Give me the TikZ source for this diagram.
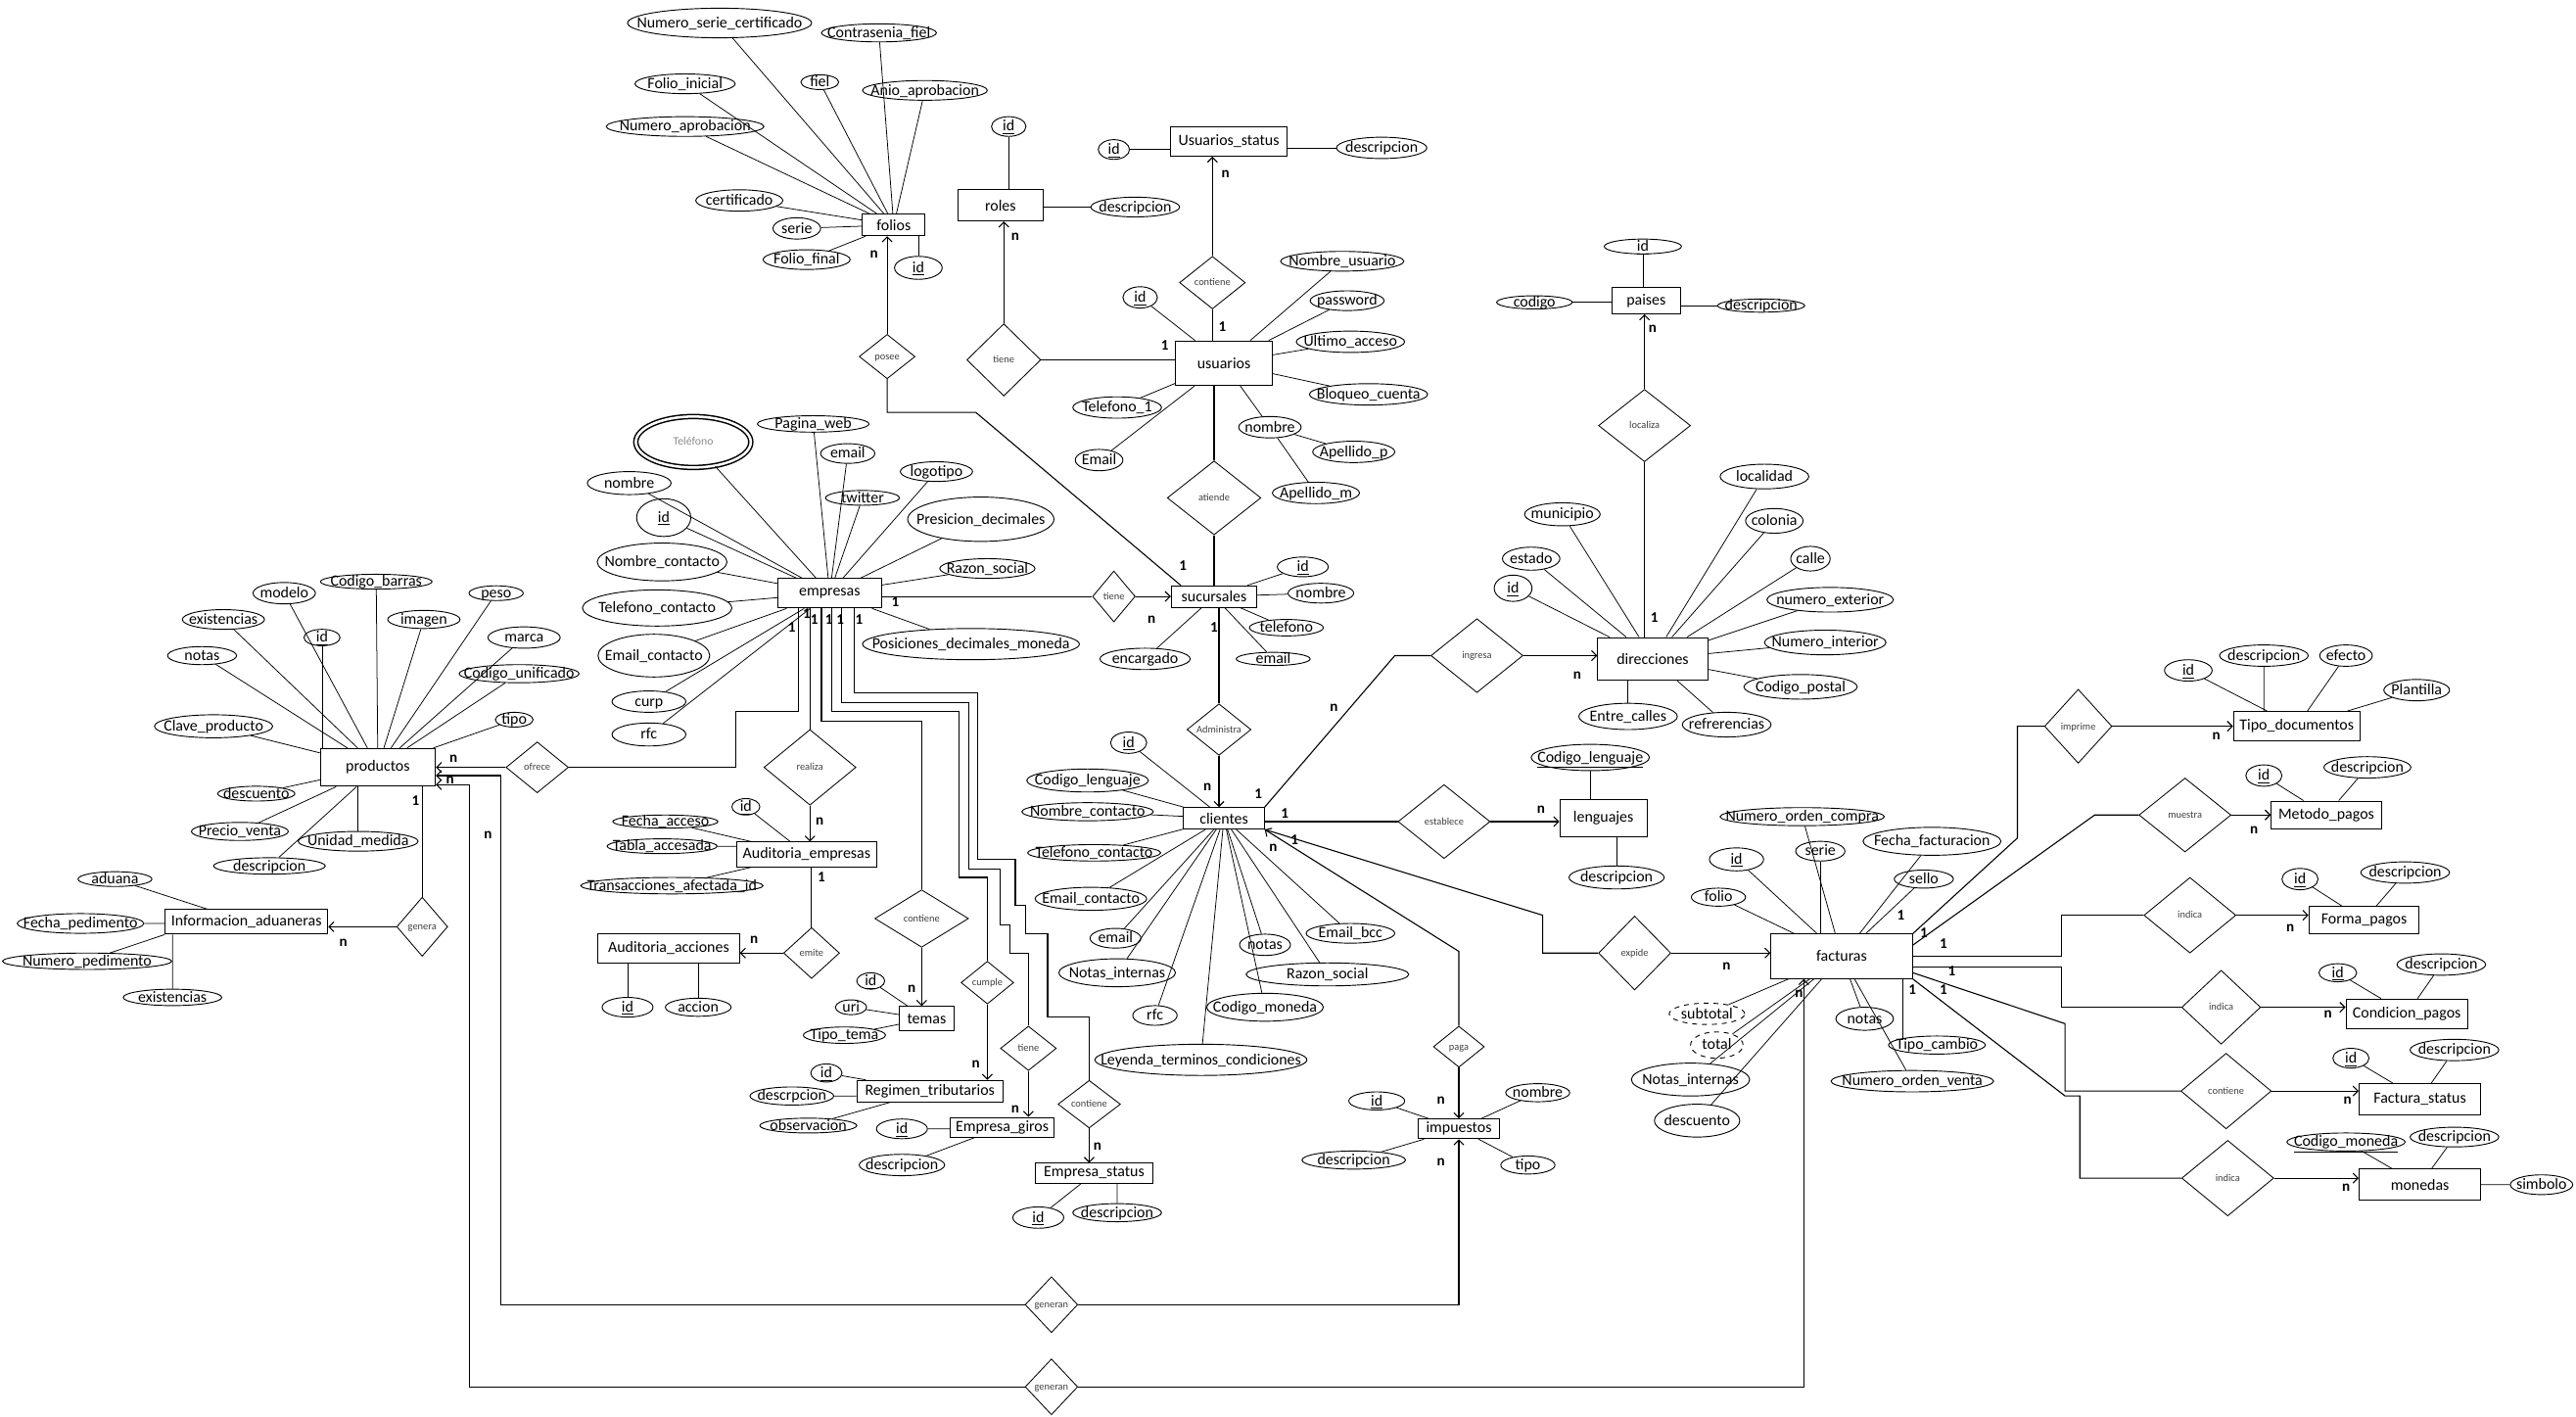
\documentclass[tikz,border=0pt]{standalone}
\usepackage{fontspec}
\setmainfont{Carlito}
\usetikzlibrary{shapes.geometric,arrows.meta}

% texto sin ancho, centrado en el nodo
\newcommand{\etq}[1]{\makebox[0pt]{\raisebox{-0.3em}{#1}}}

\begin{document}
\begin{tikzpicture}[
    x=1pt, y=-1pt,
    >={Straight Barb[length=3pt,width=6pt]},
    sz/.style 2 args={minimum width=#1pt, minimum height=#2pt},
    ent/.style={draw, rectangle, line width=0.6pt, inner sep=0pt, font=\fontsize{9.5}{11}\selectfont},
    atr/.style={draw, ellipse, line width=0.55pt, inner sep=0pt, text height=0pt, text depth=0pt, font=\fontsize{9.5}{11}\selectfont},
    der/.style={atr, dashed},
    mult/.style={atr, double, double distance=1.5pt, line width=0.9pt, text=black!45, font=\fontsize{7}{8}\selectfont},
    rel/.style={draw, diamond, line width=0.5pt, inner sep=0pt, text height=4pt, text depth=0pt, text=black!75, font=\fontsize{6.2}{7}\selectfont},
    card/.style={inner sep=0pt, font=\fontsize{9}{10}\selectfont\bfseries},
    lin/.style={line width=0.45pt},
    rl/.style={line width=0.65pt}
]
\useasboundingbox[fill=white] (0,0) rectangle (1568,862);

% entidades
\node[ent, sz={38}{13}] (fol) at (544,137) {folios};
\node[ent, sz={52}{19}] (rol) at (609,125) {roles};
\node[ent, sz={71}{18}] (ust) at (748,86)  {Usuarios\_status};
\node[ent, sz={59}{27}] (usu) at (745,221) {usuarios};
\node[ent, sz={63}{18}] (emp) at (505,361) {empresas};
\node[ent, sz={52}{13}] (suc) at (739,363) {sucursales};
\node[ent, sz={49}{13}] (cli) at (745,498) {clientes};
\node[ent, sz={67}{26}] (dir) at (1006,401) {direcciones};
\node[ent, sz={42}{16}] (pai) at (1002,183) {paises};
\node[ent, sz={53}{23}] (len) at (976,498) {lenguajes};
\node[ent, sz={86}{27}] (fac) at (1121,582) {facturas};
\node[ent, sz={77}{18}] (tdo) at (1398,442) {Tipo\_documentos};
\node[ent, sz={67}{17}] (mpa) at (1416,496) {Metodo\_pagos};
\node[ent, sz={67}{17}] (fpa) at (1439,560) {Forma\_pagos};
\node[ent, sz={74}{18}] (cpa) at (1465,617) {Condicion\_pagos};
\node[ent, sz={74}{19}] (fst) at (1473,669) {Factura\_status};
\node[ent, sz={74}{19}] (mon) at (1473,721) {monedas};
\node[ent, sz={49}{12}] (imp) at (888,687) {impuestos};
\node[ent, sz={72}{12}] (est) at (666,714) {Empresa\_status};
\node[ent, sz={63}{12}] (egi) at (610,686) {Empresa\_giros};
\node[ent, sz={89}{13}] (reg) at (566,664) {Regimen\_tributarios};
\node[ent, sz={33}{15}] (tem) at (564,620) {temas};
\node[ent, sz={86}{18}] (aac) at (407,577) {Auditoria\_acciones};
\node[ent, sz={85}{15}] (aem) at (491,520) {Auditoria\_empresas};
\node[ent, sz={70}{23}] (pro) at (230,467) {productos};
\node[ent, sz={99}{15}] (ina) at (150,561) {Informacion\_aduaneras};

% atributos folios / roles / usuarios
\node[atr, sz={112}{18}] (fo-nsc) at (438,14)  {\etq{Numero\_serie\_certificado}};
\node[atr, sz={70}{11}]  (fo-cfi) at (535,20)  {\etq{Contrasenia\_fiel}};
\node[atr, sz={61}{12}]  (fo-fin) at (417,51)  {\etq{Folio\_inicial}};
\node[atr, sz={23}{9}]   (fo-fie) at (499,50)  {\etq{fiel}};
\node[atr, sz={76}{12}]  (fo-ani) at (563,55)  {\etq{Anio\_aprobacion}};
\node[atr, sz={96}{12}]  (fo-nap) at (417,77)  {\etq{Numero\_aprobacion}};
\node[atr, sz={53}{13}]  (fo-cer) at (450,122) {\etq{certificado}};
\node[atr, sz={29}{13}]  (fo-ser) at (485,139) {\etq{serie}};
\node[atr, sz={53}{12}]  (fo-ffi) at (491,158) {\etq{Folio\_final}};
\node[atr, sz={29}{14}]  (fo-id)  at (559,163) {\etq{\underline{id}}};
\node[atr, sz={21}{12}]  (ro-id)  at (614,77)  {\etq{\underline{id}}};
\node[atr, sz={54}{12}]  (ro-des) at (691,126) {\etq{descripcion}};
\node[atr, sz={19}{12}]  (us-id)  at (678,91)  {\etq{\underline{id}}};
\node[atr, sz={55}{13}]  (us-des) at (841,90)  {\etq{descripcion}};
\node[atr, sz={21}{13}]  (u-id)   at (694,181) {\etq{\underline{id}}};
\node[atr, sz={75}{12}]  (u-nus)  at (817,159) {\etq{Nombre\_usuario}};
\node[atr, sz={45}{12}]  (u-pas)  at (820,183) {\etq{password}};
\node[atr, sz={66}{13}]  (u-ult)  at (822,208) {\etq{Ultimo\_acceso}};
\node[atr, sz={72}{13}]  (u-blo)  at (833,240) {\etq{Bloqueo\_cuenta}};
\node[atr, sz={54}{13}]  (u-tel)  at (680,248) {\etq{Telefono\_1}};
\node[atr, sz={29}{13}]  (u-ema)  at (669,280) {\etq{Email}};
\node[atr, sz={38}{13}]  (u-nom)  at (773,260) {\etq{nombre}};
\node[atr, sz={50}{13}]  (u-app)  at (824,275) {\etq{Apellido\_p}};
\node[atr, sz={53}{13}]  (u-apm)  at (801,300) {\etq{Apellido\_m}};

% atributos empresas / sucursales
\node[mult, sz={70}{31}] (e-tel) at (422,269) {\etq{Teléfono}};
\node[atr, sz={68}{10}]  (e-pag) at (495,258) {\etq{Pagina\_web}};
\node[atr, sz={33}{12}]  (e-ema) at (516,276) {\etq{email}};
\node[atr, sz={44}{12}]  (e-log) at (570,287) {\etq{logotipo}};
\node[atr, sz={45}{9}]   (e-twi) at (525,303) {\etq{twitter}};
\node[atr, sz={89}{27}]  (e-pre) at (597,316) {\etq{Presicion\_decimales}};
\node[atr, sz={58}{12}]  (e-raz) at (601,346) {\etq{Razon\_social}};
\node[atr, sz={132}{19}] (e-pos) at (591,392) {\etq{Posiciones\_decimales\_moneda}};
\node[atr, sz={51}{14}]  (e-nom) at (383,294) {\etq{nombre}};
\node[atr, sz={33}{23}]  (e-id)  at (404,315) {\etq{\underline{id}}};
\node[atr, sz={79}{23}]  (e-nco) at (403,342) {\etq{Nombre\_contacto}};
\node[atr, sz={91}{22}]  (e-tco) at (400,370) {\etq{Telefono\_contacto}};
\node[atr, sz={68}{26}]  (e-eco) at (398,399) {\etq{Email\_contacto}};
\node[atr, sz={45}{13}]  (e-cur) at (395,427) {\etq{curp}};
\node[atr, sz={45}{14}]  (e-rfc) at (395,447) {\etq{rfc}};
\node[atr, sz={31}{12}]  (s-id)  at (793,345) {\etq{\underline{id}}};
\node[atr, sz={40}{12}]  (s-nom) at (804,361) {\etq{nombre}};
\node[atr, sz={45}{10}]  (s-tel) at (783,382) {\etq{telefono}};
\node[atr, sz={45}{8}]   (s-ema) at (775,401) {\etq{email}};
\node[atr, sz={55}{13}]  (s-enc) at (697,401) {\etq{encargado}};

% atributos clientes
\node[atr, sz={22}{13}]  (c-id)  at (687,452) {\etq{\underline{id}}};
\node[atr, sz={74}{14}]  (c-cle) at (662,475) {\etq{Codigo\_lenguaje}};
\node[atr, sz={80}{11}]  (c-nco) at (662,494) {\etq{Nombre\_contacto}};
\node[atr, sz={81}{10}]  (c-tco) at (666,519) {\etq{Telefono\_contacto}};
\node[atr, sz={68}{14}]  (c-eco) at (664,547) {\etq{Email\_contacto}};
\node[atr, sz={31}{12}]  (c-ema) at (679,571) {\etq{email}};
\node[atr, sz={71}{17}]  (c-nin) at (680,592) {\etq{Notas\_internas}};
\node[atr, sz={27}{12}]  (c-rfc) at (703,618) {\etq{rfc}};
\node[atr, sz={129}{19}] (c-ley) at (731,645) {\etq{Leyenda\_terminos\_condiciones}};
\node[atr, sz={71}{17}]  (c-cmo) at (770,613) {\etq{Codigo\_moneda}};
\node[atr, sz={31}{13}]  (c-not) at (770,575) {\etq{notas}};
\node[atr, sz={99}{14}]  (c-raz) at (808,593) {\etq{Razon\_social}};
\node[atr, sz={54}{12}]  (c-bcc) at (822,568) {\etq{Email\_bcc}};

% atributos direcciones / paises / lenguajes
\node[atr, sz={23}{16}]  (d-id)  at (921,358)  {\etq{\underline{id}}};
\node[atr, sz={35}{14}]  (d-est) at (932,340)  {\etq{estado}};
\node[atr, sz={46}{14}]  (d-mun) at (951,313)  {\etq{municipio}};
\node[atr, sz={54}{15}]  (d-loc) at (1074,290) {\etq{localidad}};
\node[atr, sz={35}{15}]  (d-col) at (1080,317) {\etq{colonia}};
\node[atr, sz={24}{15}]  (d-cal) at (1102,340) {\etq{calle}};
\node[atr, sz={77}{15}]  (d-nex) at (1114,365) {\etq{numero\_exterior}};
\node[atr, sz={74}{15}]  (d-nin) at (1111,391) {\etq{Numero\_interior}};
\node[atr, sz={69}{15}]  (d-cpo) at (1096,418) {\etq{Codigo\_postal}};
\node[atr, sz={60}{16}]  (d-ent) at (991,436)  {\etq{Entre\_calles}};
\node[atr, sz={54}{15}]  (d-ref) at (1051,441) {\etq{refrerencias}};
\node[atr, sz={47}{9}]   (p-id)  at (1000,150) {\etq{\underline{id}}};
\node[atr, sz={46}{8}]   (p-cod) at (934,184)  {\etq{codigo}};
\node[atr, sz={53}{8}]   (p-des) at (1072,186) {\etq{descripcion}};
\node[atr, sz={72}{16}]  (l-cod) at (968,461)  {\etq{\underline{Codigo\_lenguaje}}};
\node[atr, sz={58}{14}]  (l-des) at (984,534)  {\etq{descripcion}};

% atributos facturas
\node[atr, sz={100}{11}] (fa-noc) at (1097,497) {\etq{Numero\_orden\_compra}};
\node[atr, sz={30}{12}]  (fa-ser) at (1108,518) {\etq{serie}};
\node[atr, sz={84}{17}]  (fa-ffa) at (1176,512) {\etq{Fecha\_facturacion}};
\node[atr, sz={33}{14}]  (fa-id)  at (1057,523) {\etq{\underline{id}}};
\node[atr, sz={36}{11}]  (fa-sel) at (1171,535) {\etq{sello}};
\node[atr, sz={33}{11}]  (fa-fol) at (1046,546) {\etq{folio}};
\node[der, sz={46}{13}]  (fa-sub) at (1039,617) {\etq{subtotal}};
\node[der, sz={32}{16}]  (fa-tot) at (1045,636) {\etq{total}};
\node[atr, sz={72}{20}]  (fa-nin) at (1029,657) {\etq{Notas\_internas}};
\node[atr, sz={52}{20}]  (fa-des) at (1033,682) {\etq{descuento}};
\node[atr, sz={35}{14}]  (fa-not) at (1135,620) {\etq{notas}};
\node[atr, sz={59}{11}]  (fa-tca) at (1179,636) {\etq{Tipo\_cambio}};
\node[atr, sz={99}{13}]  (fa-nov) at (1164,658) {\etq{Numero\_orden\_venta}};

% atributos catalogos de facturas
\node[atr, sz={29}{13}] (td-id)  at (1332,408) {\etq{\underline{id}}};
\node[atr, sz={54}{13}] (td-des) at (1378,399) {\etq{descripcion}};
\node[atr, sz={32}{13}] (td-efe) at (1428,399) {\etq{efecto}};
\node[atr, sz={40}{13}] (td-pla) at (1471,420) {\etq{Plantilla}};
\node[atr, sz={22}{13}] (mp-id)  at (1378,472) {\etq{\underline{id}}};
\node[atr, sz={53}{13}] (mp-des) at (1441,467) {\etq{descripcion}};
\node[atr, sz={22}{13}] (fp-id)  at (1400,535) {\etq{\underline{id}}};
\node[atr, sz={54}{13}] (fp-des) at (1464,531) {\etq{descripcion}};
\node[atr, sz={23}{11}] (cp-id)  at (1423,592) {\etq{\underline{id}}};
\node[atr, sz={54}{13}] (cp-des) at (1486,587) {\etq{descripcion}};
\node[atr, sz={22}{12}] (fs-id)  at (1431,644) {\etq{\underline{id}}};
\node[atr, sz={54}{13}] (fs-des) at (1494,639) {\etq{descripcion}};
\node[atr, sz={72}{11}] (mo-cmo) at (1428,695) {\etq{\underline{Codigo\_moneda}}};
\node[atr, sz={54}{12}] (mo-des) at (1494,692) {\etq{descripcion}};
\node[atr, sz={38}{12}] (mo-sim) at (1547,721) {\etq{simbolo}};

% atributos impuestos / empresas (catalogos)
\node[atr, sz={34}{11}] (i-id)   at (838,670) {\etq{\underline{id}}};
\node[atr, sz={39}{11}] (i-nom)  at (936,665) {\etq{nombre}};
\node[atr, sz={63}{11}] (i-des)  at (824,706) {\etq{descripcion}};
\node[atr, sz={33}{11}] (i-tip)  at (930,709) {\etq{tipo}};
\node[atr, sz={31}{13}] (es-id)  at (632,741) {\etq{\underline{id}}};
\node[atr, sz={54}{11}] (es-des) at (680,738) {\etq{descripcion}};
\node[atr, sz={31}{12}] (eg-id)  at (549,687) {\etq{\underline{id}}};
\node[atr, sz={52}{13}] (eg-des) at (549,709) {\etq{descripcion}};
\node[atr, sz={19}{11}] (rg-id)  at (503,653) {\etq{\underline{id}}};
\node[atr, sz={51}{11}] (rg-des) at (482,667) {\etq{descrpcion}};
\node[atr, sz={59}{9}]  (rg-obs) at (492,685) {\etq{observacion}};
\node[atr, sz={17}{10}] (t-id)   at (530,597) {\etq{\underline{id}}};
\node[atr, sz={19}{9}]  (t-uri)  at (518,613) {\etq{uri}};
\node[atr, sz={50}{10}] (t-tip)  at (514,630) {\etq{Tipo\_tema}};
\node[atr, sz={31}{12}] (aa-id)  at (382,613) {\etq{\underline{id}}};
\node[atr, sz={40}{11}] (aa-acc) at (425,613) {\etq{accion}};
\node[atr, sz={17}{10}] (ae-id)  at (454,491) {\etq{\underline{id}}};
\node[atr, sz={64}{8}]  (ae-fec) at (405,500) {\etq{Fecha\_acceso}};
\node[atr, sz={67}{9}]  (ae-tab) at (403,515) {\etq{Tabla\_accesada}};
\node[atr, sz={111}{10}] (ae-tra) at (409,539) {\etq{Transacciones\_afectada\_id}};

% atributos productos / aduanas
\node[atr, sz={38}{13}] (pr-mod) at (173,361) {\etq{modelo}};
\node[atr, sz={68}{9}]  (pr-cba) at (229,354) {\etq{Codigo\_barras}};
\node[atr, sz={33}{9}]  (pr-pes) at (302,361) {\etq{peso}};
\node[atr, sz={50}{12}] (pr-exi) at (136,377) {\etq{existencias}};
\node[atr, sz={44}{11}] (pr-ima) at (258,377) {\etq{imagen}};
\node[atr, sz={22}{10}] (pr-id)  at (196,388) {\etq{\underline{id}}};
\node[atr, sz={44}{13}] (pr-mar) at (319,388) {\etq{marca}};
\node[atr, sz={42}{11}] (pr-not) at (123,399) {\etq{notas}};
\node[atr, sz={73}{11}] (pr-cun) at (316,410) {\etq{Codigo\_unificado}};
\node[atr, sz={72}{14}] (pr-cla) at (130,442) {\etq{Clave\_producto}};
\node[atr, sz={23}{9}]  (pr-tip) at (313,438) {\etq{tipo}};
\node[atr, sz={47}{9}]  (pr-dsc) at (156,483) {\etq{descuento}};
\node[atr, sz={59}{11}] (pr-pve) at (146,506) {\etq{Precio\_venta}};
\node[atr, sz={73}{12}] (pr-uni) at (218,512) {\etq{Unidad\_medida}};
\node[atr, sz={68}{10}] (pr-des) at (164,527) {\etq{descripcion}};
\node[atr, sz={45}{9}]  (ia-adu) at (70,535)  {\etq{aduana}};
\node[atr, sz={77}{12}] (ia-fec) at (49,562)  {\etq{Fecha\_pedimento}};
\node[atr, sz={103}{10}] (ia-num) at (53,585) {\etq{Numero\_pedimento}};
\node[atr, sz={60}{10}] (ia-exi) at (105,607) {\etq{existencias}};

% relaciones
\node[rel, sz={34}{27}] (pos) at (540,217)  {posee};
\node[rel, sz={45}{44}] (rti) at (611,219)  {tiene};
\node[rel, sz={40}{32}] (rcu) at (738,172)  {contiene};
\node[rel, sz={57}{45}] (ate) at (739,303)  {atiende};
\node[rel, sz={26}{31}] (tis) at (678,363)  {tiene};
\node[rel, sz={39}{31}] (adm) at (742,444)  {Administra};
\node[rel, sz={56}{46}] (rea) at (493,467)  {realiza};
\node[rel, sz={34}{31}] (emi) at (494,580)  {emite};
\node[rel, sz={57}{35}] (ctm) at (561,559)  {contiene};
\node[rel, sz={32}{26}] (cum) at (601,598)  {cumple};
\node[rel, sz={34}{27}] (tig) at (626,638)  {tiene};
\node[rel, sz={38}{29}] (cte) at (663,672)  {contiene};
\node[rel, sz={38}{31}] (ofr) at (327,467)  {ofrece};
\node[rel, sz={31}{36}] (gen) at (257,564)  {genera};
\node[rel, sz={32}{34}] (gn1) at (640,794)  {generan};
\node[rel, sz={32}{34}] (gn2) at (640,844)  {generan};
\node[rel, sz={31}{25}] (pag) at (888,637)  {paga};
\node[rel, sz={56}{45}] (ing) at (899,399)  {ingresa};
\node[rel, sz={56}{45}] (esb) at (879,500)  {establece};
\node[rel, sz={56}{44}] (loc) at (1001,259) {localiza};
\node[rel, sz={44}{45}] (exp) at (995,580)  {expide};
\node[rel, sz={41}{45}] (imr) at (1265,442) {imprime};
\node[rel, sz={56}{45}] (mue) at (1330,496) {muestra};
\node[rel, sz={56}{46}] (in1) at (1333,557) {indica};
\node[rel, sz={48}{45}] (in2) at (1352,613) {indica};
\node[rel, sz={55}{46}] (cf)  at (1355,664) {contiene};
\node[rel, sz={56}{46}] (in3) at (1356,717) {indica};

% lineas de atributos
\draw[lin] (fol) -- (fo-nsc) (fol) -- (fo-cfi) (fol) -- (fo-fin) (fol) -- (fo-fie) (fol) -- (fo-ani)
           (fol) -- (fo-nap) (fol) -- (fo-cer) (fol) -- (fo-ser) (fol) -- (fo-ffi);
\draw[lin] (fo-id) -- (fo-id |- fol.south);
\draw[lin] (ro-id) -- (ro-id |- rol.north) (ro-des) -- (ro-des -| rol.east);
\draw[lin] (us-id) -- (us-id -| ust.west) (us-des) -- (us-des -| ust.east);
\draw[lin] (usu) -- (u-id) (usu) -- (u-nus) (usu) -- (u-pas) (usu) -- (u-ult) (usu) -- (u-blo)
           (usu) -- (u-tel) (usu) -- (u-ema) (usu) -- (u-nom) (u-nom) -- (u-app) (u-nom) -- (u-apm);
\draw[lin] (emp) -- (e-tel) (emp) -- (e-pag) (emp) -- (e-ema) (emp) -- (e-log) (emp) -- (e-twi)
           (emp) -- (e-pre) (emp) -- (e-raz) (emp) -- (e-pos) (emp) -- (e-nom) (emp) -- (e-id)
           (emp) -- (e-nco) (emp) -- (e-tco) (emp) -- (e-eco) (emp) -- (e-cur) (emp) -- (e-rfc);
\draw[lin] (suc) -- (s-id) (suc) -- (s-nom) (suc) -- (s-tel) (suc) -- (s-ema) (suc) -- (s-enc);
\draw[lin] (cli) -- (c-id) (cli) -- (c-cle) (cli) -- (c-nco) (cli) -- (c-tco) (cli) -- (c-eco)
           (cli) -- (c-ema) (cli) -- (c-nin) (cli) -- (c-rfc) (cli) -- (c-ley) (cli) -- (c-cmo)
           (cli) -- (c-not) (cli) -- (c-raz) (cli) -- (c-bcc);
\draw[lin] (dir) -- (d-id) (dir) -- (d-est) (dir) -- (d-mun) (dir) -- (d-loc) (dir) -- (d-col)
           (dir) -- (d-cal) (dir) -- (d-nex) (dir) -- (d-nin) (dir) -- (d-cpo) (dir) -- (d-ref);
\draw[lin] (d-ent) -- (d-ent |- dir.south);
\draw[lin] (p-id) -- (p-id |- pai.north) (p-cod) -- (p-cod -| pai.west) (p-des) -- (p-des -| pai.east);
\draw[lin] (l-cod) -- (l-cod |- len.north) (l-des) -- (l-des |- len.south);
\draw[lin] (fac) -- (fa-noc) (fac) -- (fa-ffa) (fac) -- (fa-id) (fac) -- (fa-sel) (fac) -- (fa-fol)
           (fac) -- (fa-sub) (fac) -- (fa-tot) (fac) -- (fa-nin) (fac) -- (fa-des) (fac) -- (fa-not)
           (fac) -- (fa-nov);
\draw[lin] (fa-ser) -- (fa-ser |- fac.north) (fa-tca.north west) -- (fa-tca.north west |- fac.south);
\draw[lin] (tdo) -- (td-id) (td-des) -- (td-des |- tdo.north) (tdo) -- (td-efe) (tdo) -- (td-pla);
\draw[lin] (mpa) -- (mp-id) (mpa) -- (mp-des) (fpa) -- (fp-id) (fpa) -- (fp-des);
\draw[lin] (cpa) -- (cp-id) (cpa) -- (cp-des) (fst) -- (fs-id) (fst) -- (fs-des);
\draw[lin] (mon) -- (mo-cmo) (mon) -- (mo-des) (mo-sim) -- (mo-sim -| mon.east);
\draw[lin] (imp) -- (i-id) (imp) -- (i-nom) (imp) -- (i-des) (imp) -- (i-tip);
\draw[lin] (est) -- (es-id) (es-des) -- (es-des |- est.south);
\draw[lin] (eg-id) -- (eg-id -| egi.west) (egi) -- (eg-des);
\draw[lin] (reg) -- (rg-id) (rg-des) -- (rg-des -| reg.west) (reg) -- (rg-obs);
\draw[lin] (tem) -- (t-id) (tem) -- (t-uri) (tem) -- (t-tip);
\draw[lin] (aa-id) -- (aa-id |- aac.south) (aa-acc) -- (aa-acc |- aac.south);
\draw[lin] (aem) -- (ae-id) (aem) -- (ae-fec) (ae-tab) -- (ae-tab -| aem.west) (aem) -- (ae-tra);
\draw[lin] (pro) -- (pr-mod) (pro) -- (pr-cba) (pro) -- (pr-pes) (pro) -- (pr-exi) (pro) -- (pr-ima)
           (pro) -- (pr-mar) (pro) -- (pr-not) (pro) -- (pr-cun) (pro) -- (pr-cla) (pro) -- (pr-tip)
           (pro) -- (pr-dsc) (pro) -- (pr-pve) (pro) -- (pr-des);
\draw[lin] (pr-id) -- (pr-id |- pro.north) (pr-uni) -- (pr-uni |- pro.south);
\draw[lin] (ina) -- (ia-adu) (ia-fec) -- (ia-fec -| ina.west) (ina.south west) -- (ia-num.20)
           (ia-exi) -- (ia-exi |- ina.south);

% relaciones: usuarios y folios
\draw[rl,->] (pos.north) -- (pos.north |- fol.south);
\draw[rl] (pos.south) |- (594,251) -- ([xshift=6pt]suc.north west);
\draw[rl,->] (rti.north) -- (rti.north |- rol.south);
\draw[rl] (rti.east) -- (rti.east -| usu.west);
\draw[rl,->] (rcu.north) -- (rcu.north |- ust.south);
\draw[rl] (rcu.south) -- (rcu.south |- usu.north);
\draw[rl] (ate.north) -- (ate.north |- usu.south);
\draw[rl] (ate.south) -- (ate.south |- suc.north);

% relaciones: empresas
\draw[rl] (tis.west -| emp.east) -- (tis.west);
\draw[rl,->] (tis.east) -- (tis.east -| suc.west);
\draw[rl] (486,0 |- emp.south) -- (486,433) -- (448,433) |- (ofr.east);
\draw[rl,->] (ofr.west) -- (ofr.west -| pro.east);
\draw[rl] (rea.north |- emp.south) -- (rea.north);
\draw[rl,->] (rea.south) -- (rea.south |- aem.north);
\draw[rl] (emi.north) -- (emi.north |- aem.south);
\draw[rl,->] (emi.west) -- (emi.west -| aac.east);
\draw[rl] (500,0 |- emp.south) -- (500,439) -| (ctm.north);
\draw[rl,->] (ctm.south) -- (ctm.south |- tem.north);
\draw[rl] (506,0 |- emp.south) -- (506,433) -- (584,433) -- (584,534) -| (cum.north);
\draw[rl,->] (cum.south) -- (cum.south |- reg.north);
\draw[rl] (512.5,0 |- emp.south) -- (512.5,427.5) -- (589.6,427.5) -- (589.6,529) -- (609,529)
          -- (609,563) -- (614.5,563) -- (614.5,580) -| (tig.north);
\draw[rl,->] (tig.south) -- (tig.south |- egi.north);
\draw[rl] (520,0 |- emp.south) -- (520,421.6) -- (595,421.6) -- (595,523) -- (618,523) -- (618,551)
          -- (624.4,551) -- (624.4,568) -- (637.7,568) -- (637.7,619) -| (cte.north);
\draw[rl,->] (cte.south) -- (cte.south |- est.north);

% relaciones: productos
\draw[rl] (gen.north |- pro.south) -- (gen.north);
\draw[rl,->] (gen.west) -- (gen.west -| ina.east);
\draw[rl,->] (gn1.west) -| (305,472) -- (pro.east |- 305,472);
\draw[rl,->] (gn1.east) -| (imp.south);
\draw[rl,->] (gn2.west) -| (286,477.5) -- (pro.east |- 286,477.5);
\draw[rl,->] (gn2.east) -| (1098,0 |- fac.south);

% relaciones: sucursales y clientes
\draw[rl] (adm.north) -- (adm.north |- suc.south);
\draw[rl,->] (adm.south) -- (adm.south |- cli.north);
\draw[rl] (cli.north east) -- (849,399) -- (ing.west);
\draw[rl,->] (ing.east) -- (ing.east -| dir.west);
\draw[rl,->] (loc.north) -- (loc.north |- pai.south);
\draw[rl] (loc.south) -- (loc.south |- dir.north);
\draw[rl] (esb.west -| cli.east) -- (esb.west);
\draw[rl,->] (esb.east) -- (esb.east -| len.west);
\draw[rl] (cli.south east) -- (939,557) |- (exp.west);
\draw[rl,->] (exp.east) -- (exp.east -| fac.west);
\draw[rl,<-] (cli.south east) -- (888,579) -- (pag.north);
\draw[rl,->] (pag.south) -- (pag.south |- imp.north);

% relaciones: facturas
\draw[rl] (fac.north east) -- (1228,510) -- (1228,442) -- (imr.west);
\draw[rl,->] (imr.east) -- (imr.east -| tdo.west);
\draw[rl] (fac.north east) ++(0,7) -- (1275,496) -- (mue.west);
\draw[rl,->] (mue.east) -- (mue.east -| mpa.west);
\draw[rl] (fac.east) -- (1255,582) |- (in1.west);
\draw[rl,->] (in1.east) -- (in1.east -| fpa.west);
\draw[rl] (fac.east) ++(0,6.5) -- (1255,588.5) |- (in2.west);
\draw[rl,->] (in2.east) -- (in2.east -| cpa.west);
\draw[rl] (fac.east) ++(0,10) -- (1257,623) |- (cf.west);
\draw[rl,->] (cf.east) -- (cf.east -| fst.west);
\draw[rl] (fac.south east) -- (1257,667) -- (1266,667) |- (in3.west);
\draw[rl,->] (in3.east) -- (in3.east -| mon.west);

% cardinalidades
\node[card] (k1)  at (532,155)   {n};
\node[card] (k2)  at (618,144)   {n};
\node[card] (k3)  at (746,106)   {n};
\node[card] (k4)  at (744,199)   {1};
\node[card] (k5)  at (709,210)   {1};
\node[card] (k6)  at (720,344)   {1};
\node[card] (k7)  at (545,366)   {1};
\node[card] (k8)  at (701,377)   {n};
\node[card] (k9)  at (739,382)   {1};
\node[card] (k10) at (735,479)   {n};
\node[card] (k11) at (766,483)   {1};
\node[card] (k12) at (812,431)   {n};
\node[card] (k13) at (960,411)   {n};
\node[card] (k14) at (1007,376)  {1};
\node[card] (k15) at (1006,200)  {n};
\node[card] (k16) at (782,495)   {1};
\node[card] (k17) at (938,493)   {n};
\node[card] (k18) at (788,511)   {1};
\node[card] (k19) at (775,516)   {n};
\node[card] (k20) at (1051,588)  {n};
\node[card] (k21) at (877,670)   {n};
\node[card] (k22) at (877,707)   {n};
\node[card] (k23) at (1095,605)  {n};
\node[card] (k24) at (1157,557)  {1};
\node[card] (k25) at (1171,568)  {1};
\node[card] (k26) at (1183,574)  {1};
\node[card] (k27) at (1188,591)  {1};
\node[card] (k28) at (1164,602)  {1};
\node[card] (k29) at (1183,602)  {1};
\node[card] (k30) at (1349,448)  {n};
\node[card] (k31) at (1372,505)  {n};
\node[card] (k32) at (1394,565)  {n};
\node[card] (k33) at (1417,617)  {n};
\node[card] (k34) at (1429,670)  {n};
\node[card] (k35) at (1428,723)  {n};
\node[card] (k36) at (482,382)   {1};
\node[card] (k37) at (491,373.5) {1};
\node[card] (k38) at (495.6,377) {1};
\node[card] (k39) at (504.6,377) {1};
\node[card] (k40) at (511.5,377) {1};
\node[card] (k41) at (523,377)   {1};
\node[card] (k42) at (499,500)   {n};
\node[card] (k43) at (500,534)   {1};
\node[card] (k44) at (459,572)   {n};
\node[card] (k45) at (555,602)   {n};
\node[card] (k46) at (594,647.5) {n};
\node[card] (k47) at (618,675)   {n};
\node[card] (k48) at (668,698)   {n};
\node[card] (k49) at (276,462)   {n};
\node[card] (k50) at (274,475)   {n};
\node[card] (k51) at (297,508)   {n};
\node[card] (k52) at (253,487)   {1};
\node[card] (k53) at (209,574)   {n};

\end{tikzpicture}
\end{document}
